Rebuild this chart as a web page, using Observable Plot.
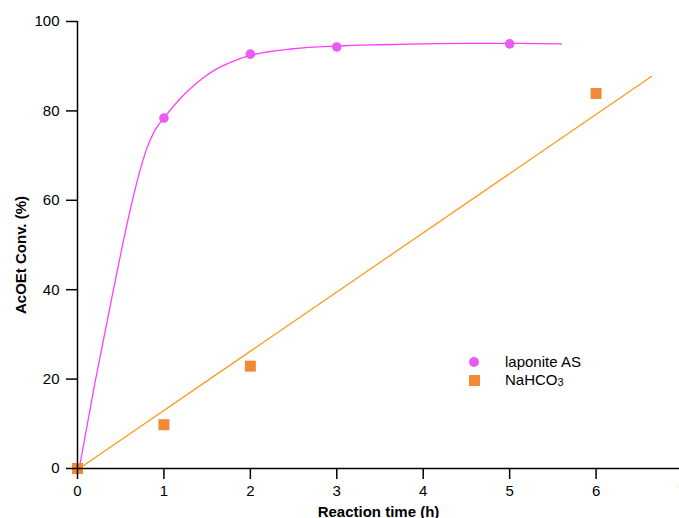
<!DOCTYPE html>
<html>
<head>
<meta charset="utf-8">
<script src="https://cdn.jsdelivr.net/npm/d3@7"></script>
<script src="https://cdn.jsdelivr.net/npm/@observablehq/plot@0.6"></script>
<style>
  html, body { margin: 0; padding: 0; background: #fff; overflow: hidden; }
  #wrap { position: relative; width: 679px; height: 518px; }
  .leg { position: absolute; font-family: "Liberation Sans", Arial, sans-serif; font-size: 15px; color: #000; line-height: 1; }
  .sw { position: absolute; }
</style>
</head>
<body>
<div id="wrap"></div>
<script>
// Measured data
const timeLap = [1, 2, 3, 5];
const convLap = [78.4, 92.7, 94.3, 95.0];
const timeNa = [0, 1, 2, 6];
const convNa = [0, 9.8, 22.9, 83.9];
// Fitted curves
const fitLapX = [0.02, 0.2, 0.4, 0.6, 0.7, 0.8, 0.9, 1.0, 1.2, 1.4, 1.6, 1.8, 2.0, 2.5, 3, 3.5, 4, 4.5, 5, 5.6];
const fitLapY = [0, 19, 38.5, 57, 65, 71.5, 75.8, 78.4, 83, 86.6, 89.3, 91.1, 92.4, 93.9, 94.5, 94.8, 95.0, 95.1, 95.1, 95.0];
const fitNaX = [0.02, 6.64];
const fitNaY = [0, 87.7];
const xTicks = [0, 1, 2, 3, 4, 5, 6, 7];
const yTicks = [0, 20, 40, 60, 80, 100];
const seriesNames = ["laponite AS", "NaHCO₃"];

const pink = "#ff3dff", pinkDot = "#e85cf2", orangeLine = "#ff9a1f", orangeDot = "#f28a35";

const lapPts = timeLap.map((t, i) => ({x: t, y: convLap[i]}));
const naPts = timeNa.map((t, i) => ({x: t, y: convNa[i]}));
const lapFit = fitLapX.map((t, i) => ({x: t, y: fitLapY[i]}));
const naFit = fitNaX.map((t, i) => ({x: t, y: fitNaY[i]}));

const chart = Plot.plot({
  width: 679,
  height: 518,
  marginLeft: 77,
  marginTop: 21,
  marginBottom: 50,
  marginRight: 0,
  style: {fontFamily: "Liberation Sans, Arial, sans-serif", fontSize: "15px", background: "#fff", overflow: "visible"},
  x: {domain: [0, 7], range: [77, 682]},
  y: {domain: [0, 100]},
  marks: [
    Plot.line(lapFit, {x: "x", y: "y", stroke: pink, strokeWidth: 1.3, curve: "monotone-x"}),
    Plot.line(naFit, {x: "x", y: "y", stroke: orangeLine, strokeWidth: 1.3}),
    Plot.dot(naPts, {x: "x", y: "y", symbol: "square", r: 6.2, fill: orangeDot}),
    Plot.dot(lapPts, {x: "x", y: "y", symbol: "circle", r: 4.8, fill: pinkDot}),
    Plot.axisX({ticks: xTicks, tickFormat: d3.format("d"), tickSize: 11, tickPadding: 6, strokeWidth: 1.5, fontSize: 15,
      label: "Reaction time (h)", labelAnchor: "center", labelArrow: "none", labelOffset: 48}),
    Plot.axisY({ticks: yTicks, tickFormat: d3.format("d"), tickSize: 11, tickPadding: 7, strokeWidth: 1.5, fontSize: 15,
      label: null}),
    Plot.ruleY([0], {stroke: "#000", strokeWidth: 1.5}),
    Plot.ruleX([0], {stroke: "#000", strokeWidth: 1.5})
  ]
});
const wrap = document.getElementById("wrap");
wrap.appendChild(chart);

// x-axis title bold
d3.select(chart).selectAll("[aria-label='x-axis label'] text").attr("font-weight", "bold");

// y-axis title
d3.select(chart).append("text")
  .attr("transform", "translate(20,255) rotate(-90)")
  .attr("text-anchor", "middle")
  .attr("dominant-baseline", "central")
  .attr("font-weight", "bold")
  .attr("font-size", 15)
  .text("AcOEt Conv. (%)");

// Legend
const legItems = [
  {name: seriesNames[0], color: pinkDot, shape: "circle", cy: 362},
  {name: seriesNames[1], color: orangeDot, shape: "square", cy: 380}
];
legItems.forEach(it => {
  const sw = document.createElement("div");
  sw.className = "sw";
  if (it.shape === "circle") {
    sw.style.cssText = `left:469px;top:${it.cy - 5}px;width:10px;height:10px;border-radius:50%;background:${it.color}`;
  } else {
    sw.style.cssText = `left:469px;top:${it.cy - 5}px;width:11px;height:11px;background:${it.color}`;
  }
  wrap.appendChild(sw);
  const lb = document.createElement("div");
  lb.className = "leg";
  lb.style.left = "505px";
  lb.style.top = (it.cy - 8) + "px";
  if (it.name === "NaHCO₃") {
    lb.innerHTML = 'NaHCO<span style="font-size:11px;vertical-align:-1px">3</span>';
  } else lb.textContent = it.name;
  wrap.appendChild(lb);
});
</script>
</body>
</html>
